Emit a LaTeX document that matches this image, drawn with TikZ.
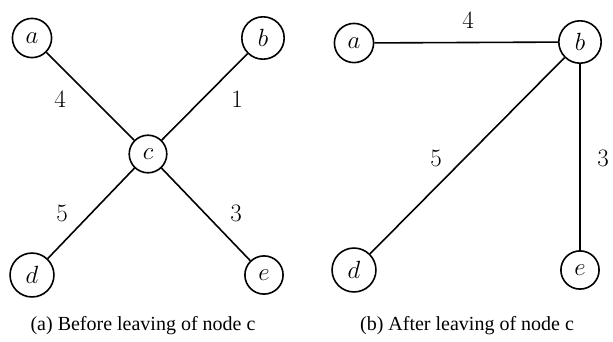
\documentclass[tikz,border=0pt]{standalone}
\usepackage{fontspec}
\newfontfamily\capfont{Liberation Serif}
\begin{document}
\begin{tikzpicture}[x=1pt,y=-1pt,
  vertex/.style={circle,draw,line width=1.6pt,inner sep=8pt,font=\fontsize{25}{30}\selectfont},
  edge/.style={line width=1.6pt},
  weight/.style={font=\fontsize{25}{30}\selectfont},
  caption/.style={font=\capfont\fontsize{20}{24}\selectfont}]
\useasboundingbox (0,0) rectangle (613,341);
% graph before node c leaves
\node[vertex] (a1) at (32,38) {$a$};
\node[vertex] (b1) at (263,38) {$b$};
\node[vertex] (c1) at (148,154) {$c$};
\node[vertex] (d1) at (32,275) {$d$};
\node[vertex] (e1) at (264,275) {$e$};
\draw[edge] (a1) -- (c1);
\draw[edge] (b1) -- (c1);
\draw[edge] (d1) -- (c1);
\draw[edge] (e1) -- (c1);
\node[weight] (w4a) at (60,99) {4};
\node[weight] (w1a) at (237,99) {1};
\node[weight] (w5a) at (62,213) {5};
\node[weight] (w3a) at (236,213) {3};
\node[caption] (capa) at (143,326) {(a) Before leaving of node c};
% graph after node c leaves
\node[vertex] (a2) at (354,43) {$a$};
\node[vertex] (b2) at (580,42) {$b$};
\node[vertex] (d2) at (354,270) {$d$};
\node[vertex] (e2) at (580,270) {$e$};
\draw[edge] (a2) -- (b2);
\draw[edge] (d2) -- (b2);
\draw[edge] (e2) -- (b2);
\node[weight] (w4b) at (468,20) {4};
\node[weight] (w5b) at (436,158) {5};
\node[weight] (w3b) at (603,158) {3};
\node[caption] (capb) at (467,326) {(b) After leaving of node c};
\end{tikzpicture}
\end{document}
